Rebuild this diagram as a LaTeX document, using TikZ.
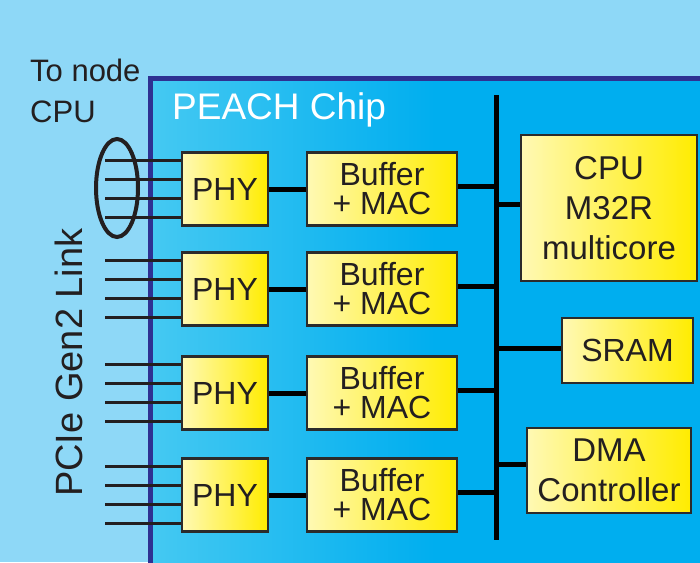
\documentclass[tikz,border=0pt]{standalone}
\usepackage{fontspec}
\setmainfont{Liberation Sans}
\definecolor{bgblue}{HTML}{8ED8F7}
\definecolor{chipL}{HTML}{45C9F2}
\definecolor{chipR}{HTML}{00AEEF}
\definecolor{navy}{HTML}{2E3192}
\definecolor{boxline}{HTML}{2B2B2B}
\definecolor{ylight}{HTML}{FFF9B4}
\definecolor{ydark}{HTML}{FFEC00}
\definecolor{txt}{HTML}{231F20}
\begin{document}
\begin{tikzpicture}[x=1pt,y=-1pt,
  blk/.style={draw=boxline, line width=2.5pt, left color=ylight, right color=ydark,
    inner sep=0pt, text=txt, align=center, font=\fontsize{32}{29}\selectfont},
  conn/.style={line width=5pt, draw=black},
  link/.style={line width=2.5pt, draw=txt},
  lbl/.style={inner sep=0pt, text=txt}]
\useasboundingbox (0,0) rectangle (700,562);
\fill[bgblue] (0,0) rectangle (700,562);
\begin{scope}
\clip (0,0) rectangle (700,562);
\path[left color=chipL, right color=chipR, middle color=chipR] (150,78) rectangle (720,590);
\draw[navy, line width=5pt] (720,78) -- (150,78) -- (150,590);
\end{scope}
% texts
\node[lbl, anchor=base west, font=\fontsize{31}{41}\selectfont, align=left] (tonode) at (30,122) {To node\\CPU};
\node[lbl, anchor=base west, text=white, font=\fontsize{37}{40}\selectfont] (chip) at (172,119) {PEACH Chip};
\node[lbl, anchor=base west, rotate=90, font=\fontsize{38}{40}\selectfont] (pcie) at (82,497) {PCIe Gen2 Link};
% rows
\foreach \i/\cy in {1/189,2/289,3/393,4/495}{
  \node[blk, minimum width=86pt, minimum height=73pt] (p\i) at (225,\cy) {PHY};
  \node[blk, minimum width=150pt, minimum height=73pt] (b\i) at (382,\cy) {Buffer\\+ MAC};
  \draw[conn] (p\i.east) -- (b\i.west);
  \coordinate (bj\i) at (496,\cy-3);
  \draw[conn] (bj\i) -- (bj\i -| b\i.east);
  \foreach \k/\o in {a/-28.5,b/-9.5,c/9.5,d/28.5}{
    \coordinate (l\i\k) at (105,\cy+\o);
    \draw[link] (l\i\k) -- (l\i\k -| p\i.west);
  }
}
% bus
\coordinate (bt) at (496,95);
\coordinate (bb) at (496,540);
\draw[conn] (bt) -- (bb);
% right blocks
\node[blk, minimum width=176pt, minimum height=146pt, font=\fontsize{33}{40}\selectfont] (cpu) at (609,208) {CPU\\M32R\\multicore};
\node[blk, minimum width=131pt, minimum height=65pt] (sram) at (627.5,350.5) {SRAM};
\node[blk, minimum width=164pt, minimum height=85pt, font=\fontsize{33}{40}\selectfont] (dma) at (609,470.5) {DMA\\Controller};
\coordinate (jc) at (496,204);
\coordinate (js) at (496,348);
\coordinate (jd) at (496,464);
\draw[conn] (jc) -- (jc -| cpu.west);
\draw[conn] (js) -- (js -| sram.west);
\draw[conn] (jd) -- (jd -| dma.west);
% ellipse
\draw[txt, line width=4pt] (117,188) ellipse (21 and 49);
\end{tikzpicture}
\end{document}
